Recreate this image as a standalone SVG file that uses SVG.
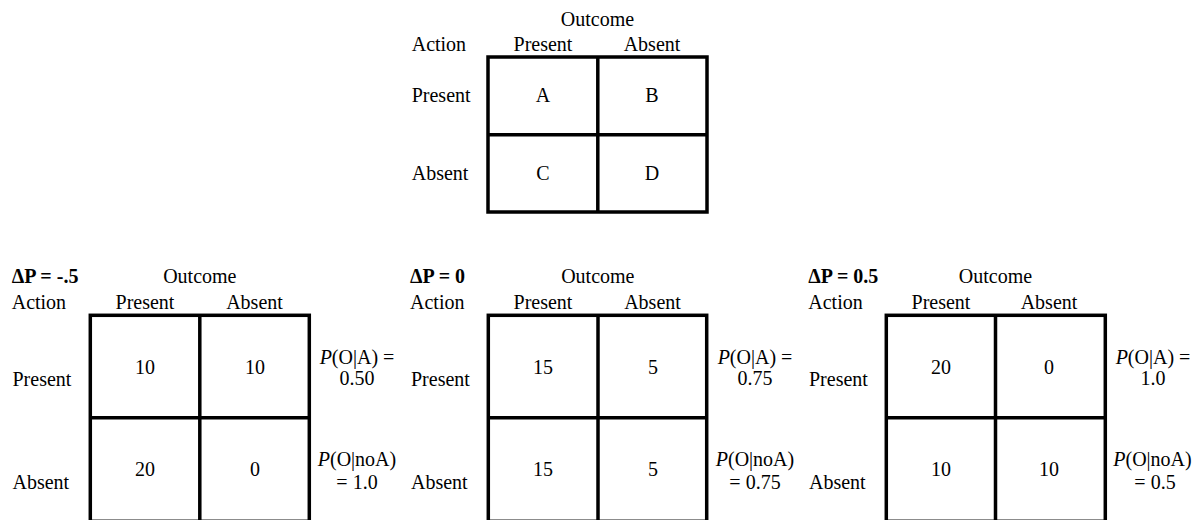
<svg xmlns="http://www.w3.org/2000/svg" width="1196" height="520" viewBox="0 0 1196 520">
<style>
text{font-family:"Liberation Serif","Times New Roman",serif;font-size:20px;fill:#000}
.c{text-anchor:middle}
.b{font-weight:bold}
.i{font-style:italic}
.box{fill:none;stroke:#000;stroke-width:3.5}
</style>
<rect width="1196" height="520" fill="#fff"/>
<g id="table-template">
<text class="c" x="597.5" y="25.5">Outcome</text>
<text x="411.7" y="50.5">Action</text>
<text class="c" x="543" y="50.5">Present</text>
<text class="c" x="652" y="50.5">Absent</text>
<text x="411.7" y="102">Present</text>
<text x="411.7" y="180">Absent</text>
<rect class="box" x="488" y="57" width="219" height="155"/>
<line class="box" x1="597.8" y1="57" x2="597.8" y2="212"/>
<line class="box" x1="488" y1="134.7" x2="707" y2="134.7"/>
<text class="c" x="543" y="102">A</text>
<text class="c" x="652" y="102">B</text>
<text class="c" x="543" y="180">C</text>
<text class="c" x="652" y="180">D</text>
</g>
<g id="table-dp-neg">
<text class="b" x="11.7" y="282.5">ΔP = -.5</text>
<text class="c" x="199.8" y="282.5">Outcome</text>
<text x="11.7" y="309">Action</text>
<text class="c" x="145" y="309">Present</text>
<text class="c" x="254.5" y="309">Absent</text>
<text x="12.5" y="386">Present</text>
<text x="12.5" y="489">Absent</text>
<rect class="box" x="90.3" y="315.3" width="219" height="206"/>
<line class="box" x1="199.8" y1="315.3" x2="199.8" y2="521.3"/>
<line class="box" x1="90.3" y1="417.8" x2="309.3" y2="417.8"/>
<text class="c" x="145" y="373.5">10</text>
<text class="c" x="255" y="373.5">10</text>
<text class="c" x="145" y="476">20</text>
<text class="c" x="255" y="476">0</text>
<text class="c" x="357" y="364"><tspan class="i">P</tspan>(O|A) =</text>
<text class="c" x="357" y="385">0.50</text>
<text class="c" x="357" y="465.5"><tspan class="i">P</tspan>(O|noA)</text>
<text class="c" x="357" y="489">= 1.0</text>
</g>
<g id="table-dp-zero">
<text class="b" x="410" y="282.5">ΔP = 0</text>
<text class="c" x="597.8" y="282.5">Outcome</text>
<text x="410" y="309">Action</text>
<text class="c" x="543" y="309">Present</text>
<text class="c" x="652.5" y="309">Absent</text>
<text x="411" y="386">Present</text>
<text x="411" y="489">Absent</text>
<rect class="box" x="488.3" y="315.3" width="218.4" height="206"/>
<line class="box" x1="598" y1="315.3" x2="598" y2="521.3"/>
<line class="box" x1="488.3" y1="417.8" x2="706.7" y2="417.8"/>
<text class="c" x="543" y="373.5">15</text>
<text class="c" x="653" y="373.5">5</text>
<text class="c" x="543" y="476">15</text>
<text class="c" x="653" y="476">5</text>
<text class="c" x="755" y="364"><tspan class="i">P</tspan>(O|A) =</text>
<text class="c" x="755" y="385">0.75</text>
<text class="c" x="755" y="465.5"><tspan class="i">P</tspan>(O|noA)</text>
<text class="c" x="755" y="489">= 0.75</text>
</g>
<g id="table-dp-pos">
<text class="b" x="808.3" y="282.5">ΔP = 0.5</text>
<text class="c" x="995.5" y="282.5">Outcome</text>
<text x="808.3" y="309">Action</text>
<text class="c" x="941" y="309">Present</text>
<text class="c" x="1049" y="309">Absent</text>
<text x="809" y="386">Present</text>
<text x="809" y="489">Absent</text>
<rect class="box" x="886.3" y="315.3" width="219" height="206"/>
<line class="box" x1="995.5" y1="315.3" x2="995.5" y2="521.3"/>
<line class="box" x1="886.3" y1="417.8" x2="1105.3" y2="417.8"/>
<text class="c" x="941" y="373.5">20</text>
<text class="c" x="1049" y="373.5">0</text>
<text class="c" x="941" y="476">10</text>
<text class="c" x="1049" y="476">10</text>
<text class="c" x="1153" y="364"><tspan class="i">P</tspan>(O|A) =</text>
<text class="c" x="1153" y="385">1.0</text>
<text class="c" x="1152.5" y="465.5"><tspan class="i">P</tspan>(O|noA)</text>
<text class="c" x="1155" y="489">= 0.5</text>
</g>
<g id="connectors"/>
</svg>
